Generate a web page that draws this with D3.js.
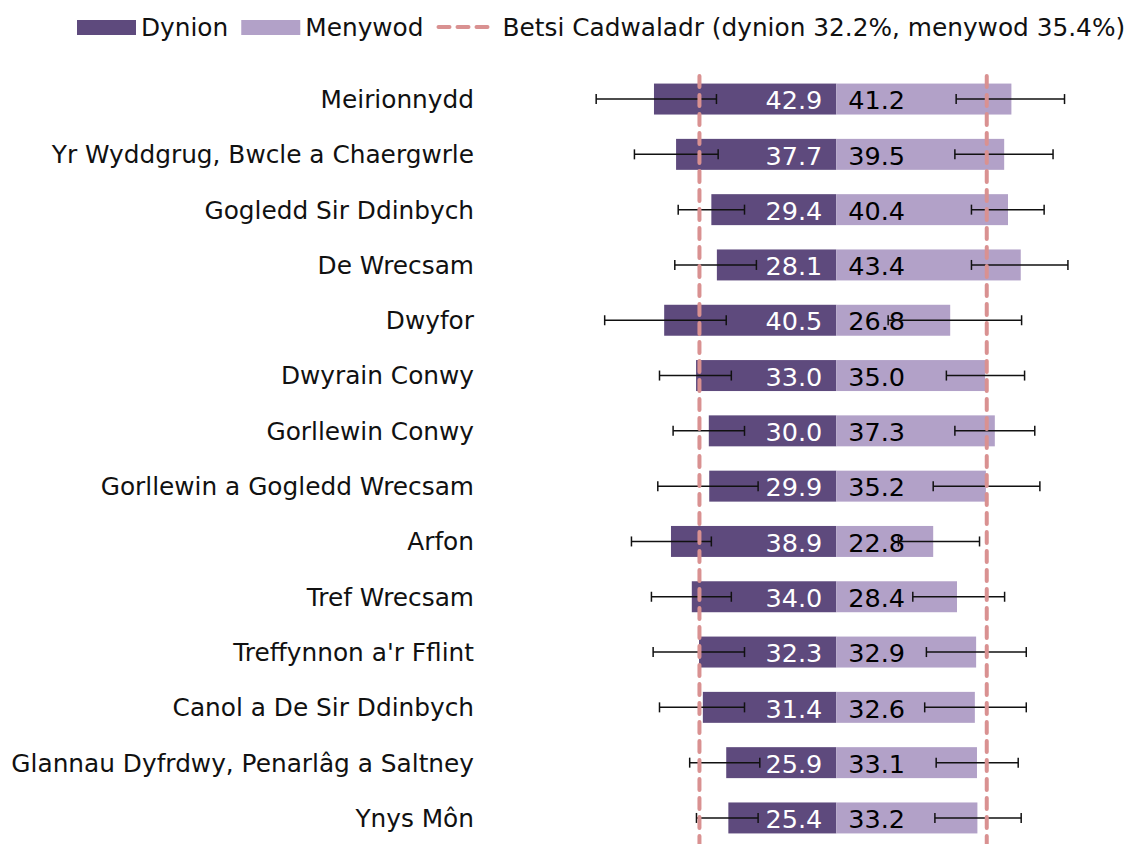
<!DOCTYPE html>
<html>
<head>
<meta charset="utf-8">
<script src="https://cdn.jsdelivr.net/npm/d3@7/dist/d3.min.js"></script>
<style>
html,body{margin:0;padding:0;background:#fff;}
svg{display:block;font-family:"DejaVu Sans",Verdana,sans-serif;}
</style>
</head>
<body>
<svg id="chart" width="1134" height="844"></svg>
<script>
const categories = ["Meirionnydd","Yr Wyddgrug, Bwcle a Chaergwrle","Gogledd Sir Ddinbych","De Wrecsam","Dwyfor","Dwyrain Conwy","Gorllewin Conwy","Gorllewin a Gogledd Wrecsam","Arfon","Tref Wrecsam","Treffynnon a'r Fflint","Canol a De Sir Ddinbych","Glannau Dyfrdwy, Penarlâg a Saltney","Ynys Môn"];
const menValues   = [42.9, 37.7, 29.4, 28.1, 40.5, 33.0, 30.0, 29.9, 38.9, 34.0, 32.3, 31.4, 25.9, 25.4];
const womenValues = [41.2, 39.5, 40.4, 43.4, 26.8, 35.0, 37.3, 35.2, 22.8, 28.4, 32.9, 32.6, 33.1, 33.2];
const menLow    = [28.2, 27.8, 21.6, 18.8, 25.9, 24.7, 21.6, 18.4, 29.4, 24.7, 21.6, 21.6, 18.0, 18.4];
const menHigh   = [56.5, 47.5, 37.2, 38.0, 54.5, 41.6, 38.4, 42.0, 48.2, 43.5, 43.1, 41.6, 34.5, 32.9];
const womenLow  = [28.2, 27.9, 31.8, 31.8, 12.2, 25.9, 27.9, 22.8, 14.6, 18.0, 21.2, 20.8, 23.5, 23.2];
const womenHigh = [53.7, 51.0, 48.9, 54.5, 43.6, 44.3, 46.7, 47.9, 33.7, 39.6, 44.7, 44.7, 42.8, 43.5];
const betsiMen = 32.2;
const betsiWomen = 35.4;
const legendLabels = ["Dynion", "Menywod", "Betsi Cadwaladr (dynion 32.2%, menywod 35.4%)"];

const COL_MEN = "#5e4a7d", COL_WOMEN = "#b2a1c8", COL_BETSI = "#d99191";
const FONT = 24.8;
const VFONT = 25.5;

const svg = d3.select("#chart");
const zero = 836.3, ppu = 4.25;
const x = d3.scaleLinear().domain([-80, 70]).range([zero - 80*ppu, zero + 70*ppu]);
const y = d3.scaleBand().domain(categories).range([71.4, 845.6]).paddingInner(0.44).paddingOuter(0.22);

const rows = categories.map((c, i) => ({
  cat: c, men: menValues[i], women: womenValues[i],
  mLo: menLow[i], mHi: menHigh[i], wLo: womenLow[i], wHi: womenHigh[i]
}));

// bars
svg.append("g").selectAll("rect").data(rows).join("rect")
  .attr("x", d => x(-d.men)).attr("width", d => x(0) - x(-d.men))
  .attr("y", d => y(d.cat)).attr("height", y.bandwidth())
  .attr("fill", COL_MEN);
svg.append("g").selectAll("rect").data(rows).join("rect")
  .attr("x", x(0)).attr("width", d => x(d.women) - x(0))
  .attr("y", d => y(d.cat)).attr("height", y.bandwidth())
  .attr("fill", COL_WOMEN);

// category labels
svg.append("g").selectAll("text").data(rows).join("text")
  .attr("x", 474).attr("y", d => y(d.cat) + y.bandwidth()/2)
  .attr("dy", "0.36em").attr("text-anchor", "end")
  .attr("font-size", FONT).attr("fill", "#111").text(d => d.cat);

// value labels
svg.append("g").selectAll("text").data(rows).join("text")
  .attr("x", x(0) - 14).attr("y", d => y(d.cat) + y.bandwidth()/2)
  .attr("dy", "0.4em").attr("text-anchor", "end")
  .attr("font-size", VFONT).attr("fill", "#fff").text(d => d.men.toFixed(1));
svg.append("g").selectAll("text").data(rows).join("text")
  .attr("x", x(0) + 12).attr("y", d => y(d.cat) + y.bandwidth()/2)
  .attr("dy", "0.4em").attr("text-anchor", "start")
  .attr("font-size", VFONT).attr("fill", "#000").text(d => d.women.toFixed(1));

// error bars
function errBars(lo, hi) {
  const g = svg.append("g").attr("stroke", "#111").attr("stroke-width", 1.5);
  rows.forEach(d => {
    const cy = y(d.cat) + y.bandwidth()/2;
    const a = x(lo(d)), b = x(hi(d));
    g.append("line").attr("x1", a).attr("x2", b).attr("y1", cy).attr("y2", cy);
    g.append("line").attr("x1", a).attr("x2", a).attr("y1", cy - 5).attr("y2", cy + 5);
    g.append("line").attr("x1", b).attr("x2", b).attr("y1", cy - 5).attr("y2", cy + 5);
  });
}
errBars(d => -d.mHi, d => -d.mLo);
errBars(d => d.wLo, d => d.wHi);

// Betsi reference lines
svg.append("g").selectAll("line").data([-betsiMen, betsiWomen]).join("line")
  .attr("x1", d => x(d)).attr("x2", d => x(d))
  .attr("y1", 76).attr("y2", 850)
  .attr("stroke", COL_BETSI).attr("stroke-width", 4)
  .attr("stroke-linecap", "round").attr("stroke-dasharray", "11,8");

// legend
const lg = svg.append("g");
let lx = 77;
const ly = 27;
[COL_MEN, COL_WOMEN].forEach((col, i) => {
  lg.append("rect").attr("x", lx).attr("y", ly - 7).attr("width", 59).attr("height", 15).attr("fill", col);
  lx += 59 + 5;
  const t = lg.append("text").attr("x", lx).attr("y", ly).attr("dy", "0.36em")
    .attr("font-size", FONT).attr("fill", "#111").text(legendLabels[i]);
  lx += t.node().getComputedTextLength() + 13;
});
lg.append("line").attr("x1", lx + 2).attr("x2", lx + 53).attr("y1", ly).attr("y2", ly)
  .attr("stroke", COL_BETSI).attr("stroke-width", 4).attr("stroke-linecap", "round")
  .attr("stroke-dasharray", "11,8");
lx += 55 + 11;
lg.append("text").attr("x", lx).attr("y", ly).attr("dy", "0.36em")
  .attr("font-size", FONT).attr("fill", "#111").text(legendLabels[2]);
</script>
</body>
</html>
